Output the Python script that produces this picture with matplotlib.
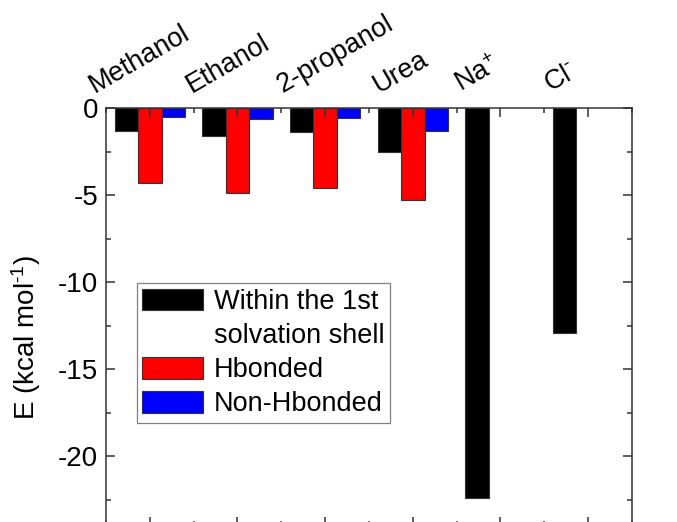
import matplotlib
matplotlib.use("Agg")
import matplotlib.pyplot as plt
import matplotlib.transforms as mtransforms
from matplotlib.patches import Patch
from matplotlib.ticker import MultipleLocator
import numpy as np

plt.rcParams['font.family'] = ['Liberation Sans', 'DejaVu Sans']
plt.rcParams['mathtext.fontset'] = 'custom'
plt.rcParams['mathtext.rm'] = 'Liberation Sans'
plt.rcParams['mathtext.it'] = 'Liberation Sans'
plt.rcParams['mathtext.default'] = 'regular'
plt.rcParams['axes.unicode_minus'] = False

# datos
categorias = ['Methanol', 'Ethanol', '2-propanol', 'Urea', 'Na$^{+}$', r'Cl$^{\text{-}}$']
capa1 = [-1.3, -1.6, -1.4, -2.55, -22.4, -12.9]
hbonded = [-4.3, -4.9, -4.6, -5.3, np.nan, np.nan]
no_hbonded = [-0.52, -0.63, -0.57, -1.3, np.nan, np.nan]

# corrimiento de cada etiqueta (px)
corr_etiq = [-55, -46, -43, -34, -39, -38]

fig = plt.figure(figsize=(6.77, 5.22), dpi=100)
ax = fig.add_axes([106/677, -4/522, 526/677, 418/522])

x = np.arange(1, len(categorias) + 1)
w = 0.267
borde = dict(edgecolor='#333333', linewidth=0.8)
ax.bar(x - w, capa1, w, color='black', **borde)
ax.bar(x, hbonded, w, color='#ff0000', **borde)
ax.bar(x + w, no_hbonded, w, color='#0000ff', **borde)

ax.set_xlim(0.5, 6.5)
ax.set_ylim(-24, 0)

ax.xaxis.set_major_locator(MultipleLocator(1))
ax.xaxis.set_minor_locator(MultipleLocator(0.5))
ax.yaxis.set_major_locator(MultipleLocator(5))
ax.yaxis.set_minor_locator(MultipleLocator(2.5))

ax.tick_params(which='both', direction='in', top=True, right=True, bottom=True, left=True,
               labeltop=True, labelbottom=False, width=1.1, color='#333333')
ax.tick_params(which='major', length=6.5)
ax.tick_params(which='minor', length=3.5)
ax.tick_params(axis='y', labelsize=20, pad=5.5)
ax.tick_params(axis='x', labelsize=19.5, pad=11)

ax.set_xticks(x)
ax.set_xticklabels(categorias, rotation=30, ha='left', va='baseline', rotation_mode='anchor')
for lab, dx in zip(ax.get_xticklabels(), corr_etiq):
    lab.set_transform(lab.get_transform() + mtransforms.ScaledTranslation(dx / 100, 0, fig.dpi_scale_trans))

for s in ax.spines.values():
    s.set_linewidth(1.1)
    s.set_color('#333333')

ax.set_ylabel(r'E (kcal mol$^{\text{-1}}$)', fontsize=20)
ax.yaxis.set_label_coords(-0.12, 0.452)

# leyenda: la segunda linea va como entrada sin simbolo
manijas = [Patch(facecolor='black', edgecolor='#333333', linewidth=0.8),
           Patch(facecolor='none', edgecolor='none'),
           Patch(facecolor='#ff0000', edgecolor='#333333', linewidth=0.8),
           Patch(facecolor='#0000ff', edgecolor='#333333', linewidth=0.8)]
textos = ['Within the 1st', 'solvation shell', 'Hbonded', 'Non-Hbonded']
leg = ax.legend(manijas, textos, loc='upper left', bbox_to_anchor=(0.059, 0.581), borderaxespad=0,
                fontsize=19.5, fancybox=False, edgecolor='#808080', framealpha=1,
                handlelength=2.25, handleheight=0.86, handletextpad=0.4,
                labelspacing=0.29, borderpad=0.2)
leg.get_frame().set_linewidth(0.9)

fig.savefig('out.png', dpi=100)
